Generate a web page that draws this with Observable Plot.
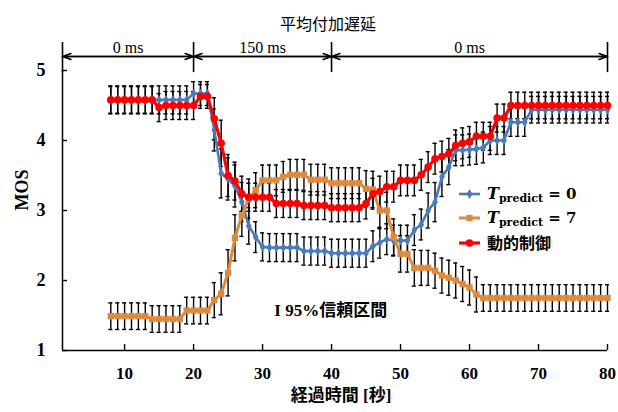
<!DOCTYPE html>
<html>
<head>
<meta charset="utf-8">
<script src="https://cdn.jsdelivr.net/npm/d3@7"></script>
<script src="https://cdn.jsdelivr.net/npm/@observablehq/plot@0.6"></script>
<style>
  html, body { margin: 0; padding: 0; background: #fff; }
</style>
</head>
<body>
<div id="chart"></div>
<script>
// ---- data ----
const seconds = [8,9,10,11,12,13,14,15,16,17,18,19,20,21,22,23,24,25,26,27,28,29,30,31,32,33,34,35,36,37,38,39,40,41,42,43,44,45,46,47,48,49,50,51,52,53,54,55,56,57,58,59,60,61,62,63,64,65,66,67,68,69,70,71,72,73,74,75,76,77,78,79,80];

const mosPredict0 = [4.58,4.58,4.58,4.58,4.58,4.58,4.58,4.58,4.58,4.58,4.58,4.58,
  4.67,4.67,4.67,4.15,3.53,3.45,3.35,3.12,2.78,2.62,2.48,
  2.47,2.47,2.47,2.47,2.47,2.42,2.42,2.42,2.42,
  2.39,2.39,2.39,2.39,2.39,2.39,2.49,2.54,2.59,2.57,2.57,2.57,
  2.72,2.80,3.00,3.12,3.48,3.62,3.86,3.86,3.87,3.88,3.90,
  4.00,4.00,4.00,4.26,4.26,4.26,
  4.44,4.44,4.44,4.44,4.44,4.44,4.44,4.44,4.44,4.44,4.44,4.44];
const ciPredict0 = [0.2,0.2,0.2,0.2,0.2,0.2,0.2,0.2,0.2,0.2,0.2,0.2,
  0.17,0.17,0.17,0.3,0.35,0.3,0.3,0.28,0.26,0.22,
  0.2,0.2,0.2,0.2,0.2,0.2,0.2,0.2,0.2,0.2,0.2,0.2,0.2,0.2,0.2,0.2,
  0.22,0.22,0.22,0.22,0.22,0.22,0.22,0.22,
  0.25,0.28,0.28,0.25,
  0.22,0.22,0.22,0.22,0.22,
  0.2,0.2,0.2,0.2,0.2,0.2,
  0.19,0.19,0.19,0.19,0.19,0.19,0.19,0.19,0.19,0.19,0.19,0.19];

const mosPredict7 = [1.49,1.49,1.49,1.49,1.49,1.49,
  1.45,1.45,1.45,1.45,1.45,
  1.57,1.57,1.57,1.57,
  1.72,1.81,2.11,2.61,2.93,3.17,3.29,
  3.43,3.43,3.43,3.48,3.51,3.51,3.51,3.44,3.44,3.44,
  3.39,3.39,3.39,3.39,3.39,3.31,3.30,3.00,3.00,2.62,2.38,2.38,
  2.18,2.18,2.18,2.14,2.07,2.04,2.00,1.95,1.90,1.80,
  1.75,1.75,1.75,1.75,1.75,1.75,1.75,1.75,1.75,1.75,1.75,1.75,1.75,1.75,1.75,1.75,1.75,1.75,1.75];
const ciPredict7 = [0.19,0.19,0.19,0.19,0.19,0.19,0.19,0.19,0.19,0.19,0.19,0.19,0.19,0.19,0.19,
  0.25,0.3,0.33,0.33,0.3,0.28,0.25,
  0.22,0.22,0.22,0.22,0.22,0.22,0.22,0.22,0.22,0.22,0.22,0.22,0.22,0.22,0.22,
  0.26,0.26,0.26,0.26,0.26,0.26,0.26,0.26,
  0.25,0.25,0.25,0.25,0.25,0.25,0.25,0.25,0.25,
  0.19,0.19,0.19,0.19,0.19,0.19,0.19,0.19,0.19,0.19,0.19,0.19,0.19,0.19,0.19,0.19,0.19,0.19,0.19];

const mosDynamic = [4.58,4.58,4.58,4.58,4.58,4.58,4.58,
  4.47,4.50,4.50,4.50,4.50,4.50,4.63,4.63,
  4.31,3.96,3.50,3.42,3.24,
  3.19,3.19,3.19,3.19,3.10,3.10,3.10,3.10,3.07,3.07,3.07,3.07,
  3.04,3.04,3.04,3.04,3.04,3.10,3.24,3.27,3.34,3.34,3.43,3.43,3.43,
  3.51,3.62,3.74,3.77,3.81,3.93,3.96,3.98,
  4.06,4.06,4.06,4.32,4.32,
  4.50,4.50,4.50,4.50,4.50,4.50,4.50,4.50,4.50,4.50,4.50,4.50,4.50,4.50,4.50];
const ciDynamic = [0.19,0.19,0.19,0.19,0.19,0.19,0.19,
  0.2,0.2,0.2,0.2,0.2,0.2,0.17,0.17,
  0.3,0.33,0.3,0.27,0.25,
  0.2,0.2,0.2,0.2,0.2,0.2,0.2,0.2,0.2,0.2,0.2,0.2,0.2,0.2,0.2,0.2,0.2,
  0.22,0.22,0.22,0.22,0.22,0.22,0.22,0.22,0.22,0.22,0.22,0.22,0.22,0.22,0.22,0.22,
  0.2,0.2,0.2,0.2,0.2,
  0.19,0.19,0.19,0.19,0.19,0.19,0.19,0.19,0.19,0.19,0.19,0.19,0.19,0.19,0.19];

const seriesNames = ["predict0", "predict7", "dynamic"];
const seriesColors = ["#4a7ab8", "#dc8a3e", "#ff0000"];
const seriesSymbols = ["diamond", "square", "circle"];

const xTicks = [10, 20, 30, 40, 50, 60, 70, 80];
const yTicks = [1, 2, 3, 4, 5];

// delay phases (seconds) and their labels
const phaseStart = [1, 20, 40];
const phaseEnd = [20, 40, 80];
const phaseLabels = ["0 ms", "150 ms", "0 ms"];

const titleText = "平均付加遅延";
const xLabel = "経過時間 [秒]";
const yLabel = "MOS";
const ciNote = "I 95%信頼区間";

// ---- build tables ----
const mosAll = [mosPredict0, mosPredict7, mosDynamic];
const ciAll = [ciPredict0, ciPredict7, ciDynamic];
const series = seriesNames.map((name, k) => ({
  name, color: seriesColors[k], symbol: seriesSymbols[k],
  rows: seconds.map((s, i) => ({x: s, y: mosAll[k][i], ci: ciAll[k][i]}))
}));
const phases = phaseStart.map((s, i) => ({x1: s, x2: phaseEnd[i], label: phaseLabels[i]}));
const boundaries = [...phaseStart, phaseEnd[phaseEnd.length - 1]];

const capW = 0.3;
const bracketY = 5.2, bracketTop = 5.4, bracketBottom = 4.97, bracketLabelY = 5.33;

const marks = [];
// error bars
for (const s of series) {
  marks.push(Plot.ruleX(s.rows, {x: "x", y1: d => d.y - d.ci, y2: d => d.y + d.ci, stroke: "#000", strokeWidth: 1.4}));
  marks.push(Plot.ruleY(s.rows, {y: d => d.y + d.ci, x1: d => d.x - capW, x2: d => d.x + capW, stroke: "#000", strokeWidth: 1.4}));
  marks.push(Plot.ruleY(s.rows, {y: d => d.y - d.ci, x1: d => d.x - capW, x2: d => d.x + capW, stroke: "#000", strokeWidth: 1.4}));
}
const lineW = [2.6, 3, 3.2];
const dotR = [3, 3.6, 3.8];
series.forEach((s, k) => {
  marks.push(Plot.line(s.rows, {x: "x", y: "y", stroke: s.color, strokeWidth: lineW[k]}));
  marks.push(Plot.dot(s.rows, {x: "x", y: "y", fill: s.color, symbol: s.symbol, r: dotR[k]}));
});

// axes
marks.push(Plot.ruleY([1], {stroke: "#000", strokeWidth: 1.5}));
marks.push(Plot.ruleX([1], {stroke: "#000", strokeWidth: 1.5}));
marks.push(Plot.axisX({ticks: xTicks, tickFormat: d => d, tickSize: -6, tickPadding: 22, fontSize: 17, fontWeight: "bold", fontFamily: "Liberation Serif", label: null, strokeWidth: 1.4}));
marks.push(Plot.axisY({ticks: yTicks, tickFormat: d => d, tickSize: -5, tickPadding: 22, fontSize: 18, fontWeight: "bold", fontFamily: "Liberation Serif", label: null, strokeWidth: 1.4}));

// phase brackets
marks.push(Plot.ruleX(boundaries, {x: d => d, y1: bracketBottom, y2: bracketTop, stroke: "#000", strokeWidth: 1.6}));
marks.push(Plot.arrow(phases, {x1: "x1", x2: "x2", y1: bracketY, y2: bracketY, stroke: "#000", strokeWidth: 1.5, headLength: 9, headAngle: 40}));
marks.push(Plot.arrow(phases, {x1: "x2", x2: "x1", y1: bracketY, y2: bracketY, stroke: "#000", strokeWidth: 1.5, headLength: 9, headAngle: 40}));
marks.push(Plot.text(phases, {x: d => (d.x1 + d.x2) / 2, y: bracketLabelY, text: "label", fontSize: 16, fontFamily: "Liberation Serif", fill: "#000"}));

// titles
marks.push(Plot.text([titleText], {frameAnchor: "top", dy: -52, dx: -7, fontSize: 16, fontFamily: "Noto Sans CJK JP", fill: "#000"}));
marks.push(Plot.text([xLabel], {frameAnchor: "bottom", dy: 50, dx: 6, fontSize: 17, fontWeight: "bold", fontFamily: "Liberation Serif, Noto Sans CJK JP", fill: "#000"}));
marks.push(Plot.text([yLabel], {frameAnchor: "left", dx: -40, rotate: -90, fontSize: 18, fontWeight: "bold", fontFamily: "Liberation Serif", fill: "#000"}));
marks.push(Plot.text([ciNote], {x: 31.7, y: 1.57, textAnchor: "start", fontSize: 17, fontWeight: "bold", fontFamily: "Liberation Serif, Noto Sans CJK JP", fill: "#000"}));

const chart = Plot.plot({
  width: 618, height: 412,
  marginLeft: 62, marginRight: 11, marginTop: 70, marginBottom: 62,
  x: {domain: [1, 80]},
  y: {domain: [1, 5]},
  style: {background: "#fff", overflow: "visible", fontFamily: "Liberation Serif", color: "#000"},
  marks
});
document.getElementById("chart").append(chart);

// legend
const legendRowY = [194, 218, 243];
const legendParts = [
  {sub: "predict", tail: " = 0"},
  {sub: "predict", tail: " = 7"},
  null
];
const legendCJK = "動的制御";
const svg = d3.select(chart);
const lg = svg.append("g").attr("text-anchor", "start");
const symMap = {diamond: d3.symbolDiamond, square: d3.symbolSquare, circle: d3.symbolCircle};
series.forEach((s, k) => {
  const yy = legendRowY[k];
  lg.append("line").attr("x1", 459).attr("x2", 480).attr("y1", yy).attr("y2", yy)
    .attr("stroke", s.color).attr("stroke-width", lineW[k]);
  lg.append("path").attr("transform", `translate(469.5,${yy})`)
    .attr("d", d3.symbol(symMap[s.symbol], Math.PI * dotR[k] * dotR[k])())
    .attr("fill", s.color);
  const t = lg.append("text").attr("x", 487).attr("y", yy + 5).attr("fill", "#000")
    .attr("font-weight", "bold").attr("text-anchor", "start");
  if (legendParts[k]) {
    t.attr("font-family", "DejaVu Serif");
    t.append("tspan").attr("font-style", "italic").attr("font-size", 16).text("T");
    t.append("tspan").attr("font-size", 11).attr("dy", 2.5).text(legendParts[k].sub);
    t.append("tspan").attr("font-size", 15).attr("dy", -2.5).text(legendParts[k].tail);
  } else {
    t.attr("font-family", "Noto Sans CJK JP").attr("font-size", 16).attr("y", yy + 6).text(legendCJK);
  }
});
</script>
</body>
</html>
